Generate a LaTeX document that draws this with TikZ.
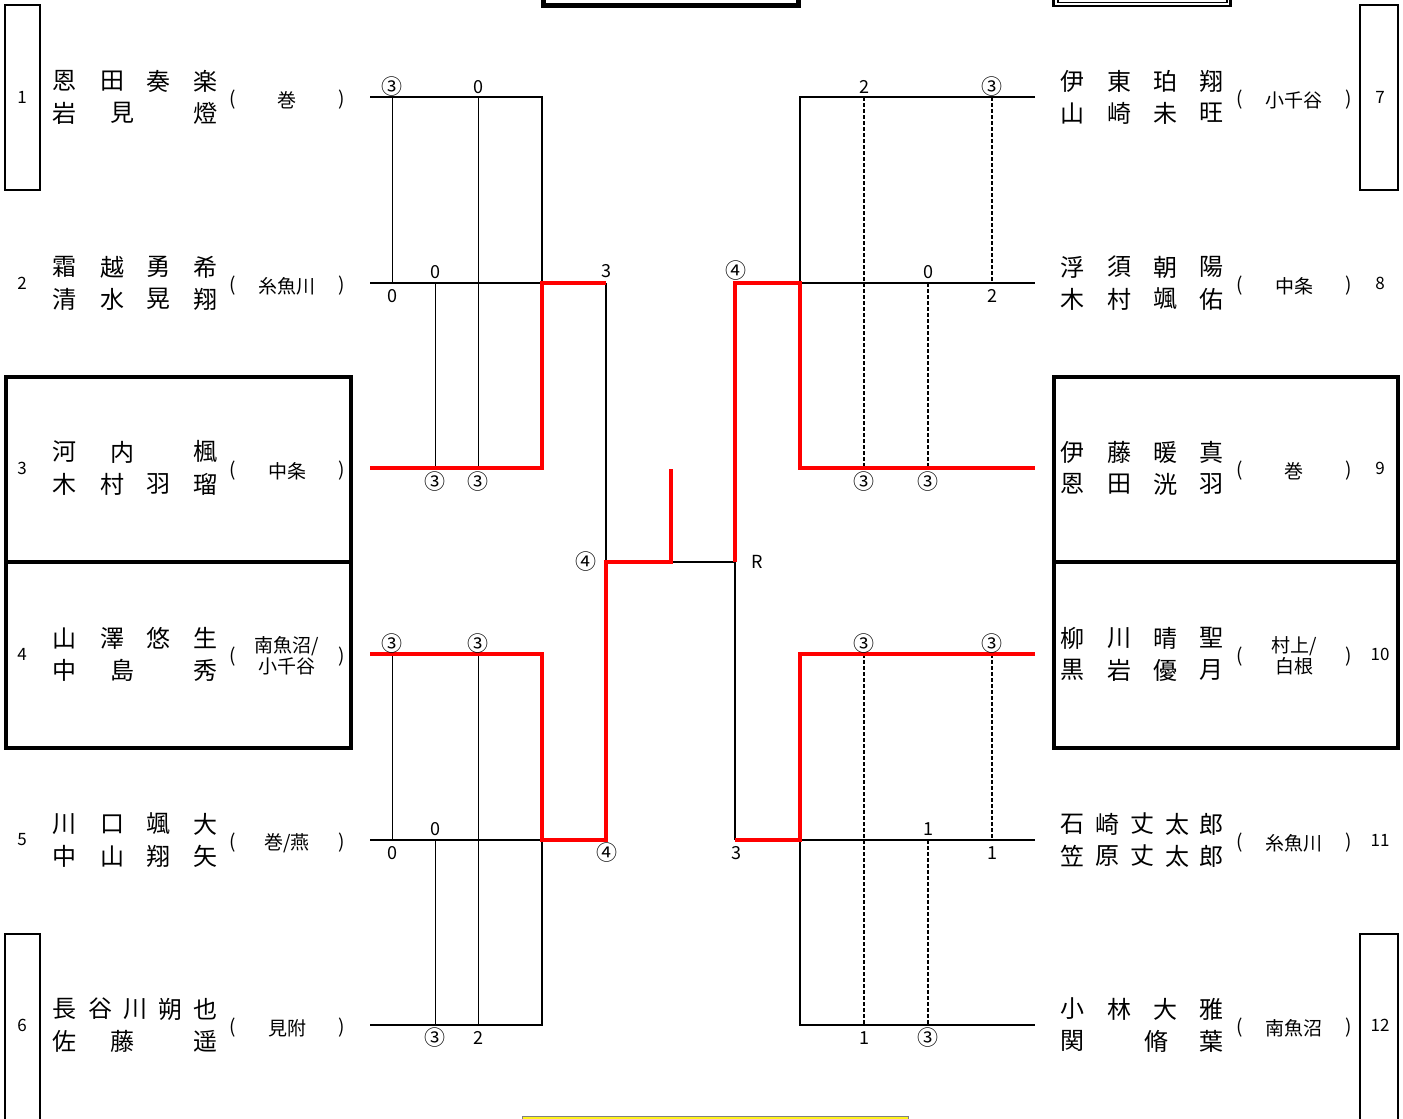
\documentclass[tikz,border=0pt]{standalone}
\usepackage{fontspec}
\setmainfont{Noto Sans CJK JP}
\usetikzlibrary{positioning}
\tikzstyle{line}    = [line width=1pt]
\tikzstyle{league}  = [line width=0.5pt]
\tikzstyle{leagued} = [line width=0.6pt, dash pattern=on 2pt off 1pt]
\tikzstyle{win}     = [line width=2pt, red]
\tikzstyle{frame}   = [line width=1.3pt]
\tikzstyle{seedbox} = [line width=1.7pt]
\tikzstyle{score}   = [inner sep=0pt, font=\fontsize{9}{9}\selectfont]
\tikzstyle{circ}    = [inner sep=0pt, font=\fontsize{10.5}{10.5}\selectfont]
\tikzstyle{num}     = [inner sep=0pt, font=\fontsize{8.5}{9}\selectfont]
\tikzstyle{ch}      = [inner sep=0pt, font=\fontsize{12}{12}\selectfont]
\tikzstyle{club}    = [inner sep=0pt, font=\fontsize{9.5}{10.5}\selectfont]
\tikzset{every node/.style={align=center}}
% one line of a name: node id, y, list of char/x
\newcommand{\nameline}[3]{%
  \foreach \chr/\x [count=\n] in {#3} \node[ch] (#1-\n) at (\x,#2) {\chr};}

\begin{document}
\begin{tikzpicture}[x=0.5pt, y=-0.5pt]
    \useasboundingbox (0,0) rectangle (1403,1119);
    \clip (0,0) rectangle (1403,1119);

    % frames at the top and bottom edge
    \draw [line width=2.5pt] (543,-40) rectangle (798,5);
    \draw [frame] (1053.5,-40) rectangle (1230.5,6);
    \draw [line width=0.7pt] (1058,-40) rectangle (1227,2.5);
    \draw [gray, fill=yellow!90!white, line width=0.4pt] (522,1116.5) rectangle (908,1130);

    % number boxes
    \draw [frame] (5,5)      rectangle (40,190);
    \draw [frame] (5,934)    rectangle (40,1140);
    \draw [frame] (1360,5)   rectangle (1398,190);
    \draw [frame] (1360,934) rectangle (1398,1140);

    % seed boxes
    \draw [seedbox] (6,377) rectangle (351,748);
    \draw [seedbox] (6,562) -- (351,562);
    \draw [seedbox] (1054,377) rectangle (1398,748);
    \draw [seedbox] (1054,562) -- (1398,562);

    % seed numbers
    \foreach \s/\y in {1/97, 2/283, 3/468, 4/654, 5/840, 6/1025}
        \node[num] (seed\s) at (22,\y) {\s};
    \foreach \s/\y in {7/97, 8/283, 9/468, 10/654, 11/840, 12/1025}
        \node[num] (seed\s) at (1380,\y) {\s};

    % names, left
    \nameline{p1a}{81}{恩/65, 田/112, 奏/158, 楽/205}
    \nameline{p1b}{113}{岩/65, 見/122, 燈/205}
    \nameline{p2a}{267}{霜/65, 越/112, 勇/158, 希/205}
    \nameline{p2b}{299}{清/65, 水/112, 晃/158, 翔/205}
    \nameline{p3a}{452}{河/65, 内/122, 楓/205}
    \nameline{p3b}{484}{木/65, 村/112, 羽/158, 瑠/205}
    \nameline{p4a}{638}{山/65, 澤/112, 悠/158, 生/205}
    \nameline{p4b}{670}{中/65, 島/122, 秀/205}
    \nameline{p5a}{824}{川/65, 口/112, 颯/158, 大/205}
    \nameline{p5b}{856}{中/65, 山/112, 翔/158, 矢/205}
    \nameline{p6a}{1009}{長/65, 谷/100, 川/135, 朔/170, 也/205}
    \nameline{p6b}{1041}{佐/65, 藤/122, 遥/205}

    % names, right
    \nameline{p7a}{81}{伊/1072, 東/1119, 珀/1165, 翔/1211}
    \nameline{p7b}{113}{山/1072, 崎/1119, 未/1165, 旺/1211}
    \nameline{p8a}{267}{浮/1072, 須/1119, 朝/1165, 陽/1211}
    \nameline{p8b}{299}{木/1072, 村/1119, 颯/1165, 佑/1211}
    \nameline{p9a}{452}{伊/1072, 藤/1119, 暖/1165, 真/1211}
    \nameline{p9b}{484}{恩/1072, 田/1119, 洸/1165, 羽/1211}
    \nameline{p10a}{638}{柳/1072, 川/1119, 晴/1165, 聖/1211}
    \nameline{p10b}{670}{黒/1072, 岩/1119, 優/1165, 月/1211}
    \nameline{p11a}{824}{石/1072, 崎/1107, 丈/1142, 太/1177, 郎/1211}
    \nameline{p11b}{856}{笠/1072, 原/1107, 丈/1142, 太/1177, 郎/1211}
    \nameline{p12a}{1009}{小/1072, 林/1119, 大/1165, 雅/1211}
    \nameline{p12b}{1041}{関/1072, 脩/1156, 葉/1211}

    % clubs
    \foreach \y in {97, 283, 468, 654, 840, 1025} {
        \node[club] (lo\y) at (233,\y+3) {(};
        \node[club] (lc\y) at (342,\y+3) {)};
        \node[club] (ro\y) at (1240,\y+3) {(};
        \node[club] (rc\y) at (1349,\y+3) {)};
    }
    \node[club] (club1)  at (287,100)  {巻};
    \node[club] (club2)  at (287,286)  {糸魚川};
    \node[club] (club3)  at (287,471)  {中条};
    \node[club] (club4)  at (287,656)  {南魚沼/\\小千谷};
    \node[club] (club5)  at (287,843)  {巻/燕};
    \node[club] (club6)  at (287,1028) {見附};
    \node[club] (club7)  at (1294,100)  {小千谷};
    \node[club] (club8)  at (1294,286)  {中条};
    \node[club] (club9)  at (1294,471)  {巻};
    \node[club] (club10) at (1294,656)  {村上/\\白根};
    \node[club] (club11) at (1294,843)  {糸魚川};
    \node[club] (club12) at (1294,1028) {南魚沼};

    % bracket points
    \foreach \r/\y in {1/97, 2/283, 3/468, 4/654, 5/840, 6/1025} {
        \coordinate (L\r) at (370,\y);
        \coordinate (J\r) at (542,\y);
        \coordinate (K\r) at (800,\y);
        \coordinate (R\r) at (1035,\y);
    }
    \coordinate (S2) at (606,283);
    \coordinate (SM) at (606,562);
    \coordinate (S5) at (606,840);
    \coordinate (F)  at (671,562);
    \coordinate (FT) at (671,469);
    \coordinate (T2) at (735,283);
    \coordinate (TM) at (735,562);
    \coordinate (T5) at (735,840);
    \coordinate (cA) at (392,0);
    \coordinate (cB) at (435,0);
    \coordinate (cC) at (478,0);
    \coordinate (cD) at (864,0);
    \coordinate (cE) at (928,0);
    \coordinate (cF) at (992,0);

    % league lines
    \draw [league] (L1 -| cA) -- (L2 -| cA);
    \draw [league] (L1 -| cC) -- (L3 -| cC);
    \draw [league] (L2 -| cB) -- (L3 -| cB);
    \draw [league] (L4 -| cA) -- (L5 -| cA);
    \draw [league] (L4 -| cC) -- (L6 -| cC);
    \draw [league] (L5 -| cB) -- (L6 -| cB);
    \draw [leagued] (R1 -| cD) -- (R3 -| cD);
    \draw [leagued] (R1 -| cF) -- (R2 -| cF);
    \draw [leagued] (R2 -| cE) -- (R3 -| cE);
    \draw [leagued] (R4 -| cD) -- (R6 -| cD);
    \draw [leagued] (R4 -| cF) -- (R5 -| cF);
    \draw [leagued] (R5 -| cE) -- (R6 -| cE);

    % bracket
    \draw [line] (L1) -- (J1) -- (J2);
    \draw [line] (L2) -- (J2);
    \draw [line] (S2) -- (SM);
    \draw [line] (L5) -- (J5);
    \draw [line] (L6) -- (J6) -- (J5);
    \draw [line] (F) -- (TM) -- (T5);
    \draw [line] (R1) -- (K1) -- (K2) -- (R2);
    \draw [line] (R5) -- (K5) -- (K6) -- (R6);
    \draw [win] (L3) -- (J3) -- (J2) -- (S2);
    \draw [win] (L4) -- (J4) -- (J5) -- (S5) -- (SM) -- (F) -- (FT);
    \draw [win] (TM) -- (T2) -- (K2) -- (K3) -- (R3);
    \draw [win] (T5) -- (K5) -- (K4) -- (R4);

    % scores, left
    \node[circ]  (a12) at (392,87)   {③};
    \node[score] (a13) at (478,87)   {0};
    \node[score] (a23) at (435,272)  {0};
    \node[score] (a21) at (392,296)  {0};
    \node[circ]  (a32) at (435,482)  {③};
    \node[circ]  (a31) at (478,482)  {③};
    \node[circ]  (b45) at (392,644)  {③};
    \node[circ]  (b46) at (478,644)  {③};
    \node[score] (b56) at (435,829)  {0};
    \node[score] (b54) at (392,853)  {0};
    \node[circ]  (b65) at (435,1038) {③};
    \node[score] (b64) at (478,1038) {2};
    \node[score] (sa)  at (606,271)  {3};
    \node[circ]  (sm)  at (586,562)  {④};
    \node[circ]  (sb)  at (607,853)  {④};

    % scores, right
    \node[score] (c79)   at (864,87)   {2};
    \node[circ]  (c78)   at (992,87)   {③};
    \node[score] (c89)   at (928,272)  {0};
    \node[score] (c87)   at (992,296)  {2};
    \node[circ]  (c97)   at (864,482)  {③};
    \node[circ]  (c98)   at (928,482)  {③};
    \node[circ]  (d1012) at (864,644)  {③};
    \node[circ]  (d1011) at (992,644)  {③};
    \node[score] (d1112) at (928,829)  {1};
    \node[score] (d1110) at (992,853)  {1};
    \node[score] (d1210) at (864,1038) {1};
    \node[circ]  (d1211) at (928,1038) {③};
    \node[circ]  (ta)    at (736,271)  {④};
    \node[score] (tb)    at (736,853)  {3};
    \node[score] (fin)   at (757,562)  {R};
\end{tikzpicture}
\end{document}
